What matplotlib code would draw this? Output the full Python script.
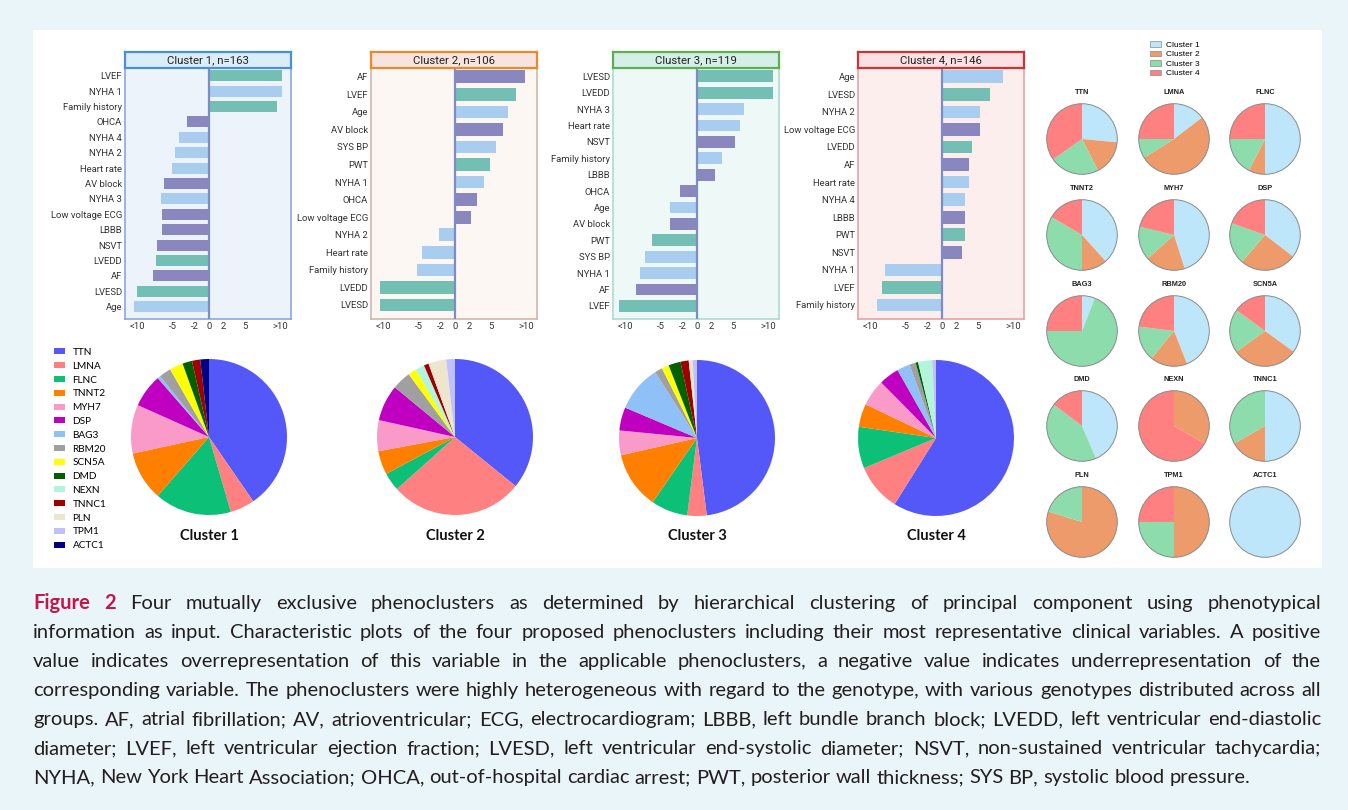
import matplotlib.pyplot as plt
from matplotlib.patches import Patch, Rectangle, Circle

W, H = 1348, 810

# --- clinical variables per phenocluster ---
c1_labels = ['LVEF', 'NYHA 1', 'Family history', 'OHCA', 'NYHA 4', 'NYHA 2',
             'Heart rate', 'AV block', 'NYHA 3', 'Low voltage ECG', 'LBBB',
             'NSVT', 'LVEDD', 'AF', 'LVESD', 'Age']
c1_values = [10.3, 10.3, 9.6, -3.0, -4.2, -4.7, -5.1, -6.2, -6.6, -6.5, -6.5,
             -7.2, -7.3, -7.8, -10.0, -10.5]
c1_groups = ['g', 'b', 'g', 'p', 'b', 'b', 'b', 'p', 'b', 'p', 'p', 'p', 'g', 'p', 'g', 'b']

c2_labels = ['AF', 'LVEF', 'Age', 'AV block', 'SYS BP', 'PWT', 'NYHA 1', 'OHCA',
             'Low voltage ECG', 'NYHA 2', 'Heart rate', 'Family history',
             'LVEDD', 'LVESD']
c2_values = [9.8, 8.6, 7.4, 6.8, 5.7, 5.0, 4.1, 3.1, 2.3, -2.2, -4.6, -5.3, -10.4, -10.4]
c2_groups = ['p', 'g', 'b', 'p', 'b', 'g', 'b', 'p', 'p', 'b', 'b', 'b', 'g', 'g']

c3_labels = ['LVESD', 'LVEDD', 'NYHA 3', 'Heart rate', 'NSVT', 'Family history',
             'LBBB', 'OHCA', 'Age', 'AV block', 'PWT', 'SYS BP', 'NYHA 1', 'AF', 'LVEF']
c3_values = [10.6, 10.6, 6.6, 6.1, 5.4, 3.5, 2.5, -2.4, -3.7, -3.7, -6.2, -7.2,
             -7.9, -8.5, -10.9]
c3_groups = ['g', 'g', 'b', 'b', 'p', 'b', 'p', 'p', 'b', 'p', 'g', 'b', 'b', 'p', 'g']

c4_labels = ['Age', 'LVESD', 'NYHA 2', 'Low voltage ECG', 'LVEDD', 'AF', 'Heart rate',
             'NYHA 4', 'LBBB', 'PWT', 'NSVT', 'NYHA 1', 'LVEF', 'Family history']
c4_values = [8.5, 6.8, 5.3, 5.3, 4.3, 3.8, 3.8, 3.3, 3.3, 3.3, 2.9, -7.9, -8.4, -9.0]
c4_groups = ['b', 'g', 'b', 'p', 'g', 'p', 'b', 'b', 'p', 'g', 'p', 'b', 'g', 'b']

cluster_titles = ['Cluster 1, n=163', 'Cluster 2, n=106', 'Cluster 3, n=119', 'Cluster 4, n=146']
x_ticks = [-10, -5, -2, 0, 2, 5, 10]
x_ticklabels = ['<10', '-5', '-2', '0', '2', '5', '>10']

# --- genotype share (%) within each cluster ---
genes = ['TTN', 'LMNA', 'FLNC', 'TNNT2', 'MYH7', 'DSP', 'BAG3', 'RBM20', 'SCN5A',
         'DMD', 'NEXN', 'TNNC1', 'PLN', 'TPM1', 'ACTC1']
gene_colors = ['#5558f8', '#ff8080', '#0cc078', '#ff8000', '#f99ac8', '#c000c0',
               '#90c0f8', '#a0a0a0', '#ffff00', '#006000', '#b3f5dc', '#a00000',
               '#ede6cc', '#c0c0ff', '#000080']
pie_c1 = [40.4, 5.1, 15.9, 10.2, 10.1, 6.9, 0.6, 2.5, 2.8, 2.0, 0, 1.7, 0, 0, 1.8]
pie_c2 = [35.8, 27.5, 3.8, 4.9, 6.4, 7.5, 0, 3.9, 1.7, 0, 1.9, 1.0, 3.7, 1.8, 0]
pie_c3 = [47.9, 4.0, 7.6, 11.8, 5.1, 4.8, 9.6, 1.6, 1.5, 2.5, 0, 1.7, 0.8, 0.9, 0]
pie_c4 = [58.9, 9.8, 8.6, 4.8, 5.5, 4.2, 2.7, 1.3, 0, 0.5, 2.9, 0, 0, 0.8, 0]

# --- cluster share (%) within each gene: cluster 1..4 ---
cluster_names = ['Cluster 1', 'Cluster 2', 'Cluster 3', 'Cluster 4']
cluster_colors = ['#bde6fb', '#ee9b6c', '#8ddcac', '#ff8080']
gene_shares = [
    [26.5, 16.0, 22.7, 34.8],   # TTN
    [14.6, 51.5, 8.9, 25.0],    # LMNA
    [50.0, 7.5, 17.5, 25.0],    # FLNC
    [38.3, 11.7, 33.5, 16.5],   # TNNT2
    [45.1, 18.3, 15.4, 21.2],   # MYH7
    [35.4, 25.8, 19.1, 19.6],   # DSP
    [6.0, 0, 69.0, 25.0],       # BAG3
    [44.0, 17.0, 16.0, 23.0],   # RBM20
    [35.0, 30.0, 20.0, 15.0],   # SCN5A
    [43.5, 0, 41.8, 14.7],      # DMD
    [0, 33.2, 0, 66.8],         # NEXN
    [50.0, 16.8, 33.2, 0],      # TNNC1
    [0, 79.8, 20.2, 0],         # PLN
    [0, 50.0, 25.0, 25.0],      # TPM1
    [100.0, 0, 0, 0],           # ACTC1
]

caption_lines = [
    "Figure 2 Four mutually exclusive phenoclusters as determined by hierarchical clustering of principal component using phenotypical",
    "information as input. Characteristic plots of the four proposed phenoclusters including their most representative clinical variables. A positive",
    "value indicates overrepresentation of this variable in the applicable phenoclusters, a negative value indicates underrepresentation of the",
    "corresponding variable. The phenoclusters were highly heterogeneous with regard to the genotype, with various genotypes distributed across all",
    "groups. AF, atrial fibrillation; AV, atrioventricular; ECG, electrocardiogram; LBBB, left bundle branch block; LVEDD, left ventricular end-diastolic",
    "diameter; LVEF, left ventricular ejection fraction; LVESD, left ventricular end-systolic diameter; NSVT, non-sustained ventricular tachycardia;",
    "NYHA, New York Heart Association; OHCA, out-of-hospital cardiac arrest; PWT, posterior wall thickness; SYS BP, systolic blood pressure.",
]

bar_colors = {'g': '#74bfb3', 'b': '#a8cdef', 'p': '#8a87bf'}

fig = plt.figure(figsize=(W / 100, H / 100), dpi=100, facecolor='#e9f5f8')


def px_axes(x0, y0, w, h):
    # axes placed by its top-left corner in pixels
    return fig.add_axes([x0 / W, 1 - (y0 + h) / H, w / W, h / H])


# white figure area
fig.add_artist(Rectangle((33 / W, 1 - 568 / H), (1322 - 33) / W, (568 - 30) / H,
                         transform=fig.transFigure, facecolor='white',
                         edgecolor='none', zorder=0))

# --- bar panels ---
panels = [
    (c1_labels, c1_values, c1_groups, 125, '#edf3fb', '#88aadb', '#dcedfa', '#4a90d9'),
    (c2_labels, c2_values, c2_groups, 371, '#fdf7f4', '#cfb8ab', '#f8e4df', '#e8892b'),
    (c3_labels, c3_values, c3_groups, 613, '#eef9f7', '#addcd1', '#d4eee8', '#5cb04e'),
    (c4_labels, c4_values, c4_groups, 858, '#fdeeee', '#e8a2a5', '#fbe1e4', '#cc3333'),
]
for (labels, values, groups, x0, bg, edge, tbg, tedge), title in zip(panels, cluster_titles):
    n = len(values)
    ax = px_axes(x0, 68, 166, 251)
    ax.set_facecolor(bg)
    ax.barh(range(n), values, height=0.72, color=[bar_colors[g] for g in groups], zorder=2)
    ax.axvline(0, color='#7d8cc2', lw=1.6, zorder=3)
    ax.set_xlim(-11.7, 11.5)
    ax.set_ylim(n - 1 + 0.8, -0.5)
    ax.set_yticks(range(n), labels, fontfamily='Roboto', fontsize=6.8, color='#333333')
    ax.set_xticks(x_ticks, x_ticklabels, fontfamily='Roboto', fontsize=6.8, color='#333333')
    ax.tick_params(length=0, pad=2)
    for s in ax.spines.values():
        s.set_color(edge)
        s.set_linewidth(1.2)

    tax = px_axes(x0, 52, 166, 16)
    tax.set_facecolor(tbg)
    tax.set_xticks([])
    tax.set_yticks([])
    for s in tax.spines.values():
        s.set_color(tedge)
        s.set_linewidth(1.6)
    tax.text(0.5, 0.5, title, ha='center', va='center', fontfamily='Roboto',
             fontsize=8.2, color='#222222', transform=tax.transAxes)

# --- genotype pies per cluster ---
big_pies = [(pie_c1, 209, 437, 'Cluster 1'), (pie_c2, 455, 437, 'Cluster 2'),
            (pie_c3, 697, 438, 'Cluster 3'), (pie_c4, 936, 438, 'Cluster 4')]
for shares, cx, cy, name in big_pies:
    r = 78
    ax = px_axes(cx - r, cy - r, 2 * r, 2 * r)
    ax.pie(shares, colors=gene_colors, startangle=90, counterclock=False,
           wedgeprops=dict(linewidth=0))
    ax.set_xlim(-1, 1)
    ax.set_ylim(-1, 1)
    fig.text(cx / W, 1 - 536 / H, name, ha='center', va='center',
             fontfamily='Lato', fontweight='bold', fontsize=10.5, color='#111111')

fig.legend([Patch(facecolor=c) for c in gene_colors], genes, loc='upper left',
           bbox_to_anchor=(54 / W, 1 - 348 / H), frameon=False,
           prop=dict(family='Lato', size=7.2), handlelength=1.05, handleheight=0.55,
           handletextpad=0.8, labelspacing=0.48, borderpad=0, borderaxespad=0)

# --- cluster distribution per gene ---
col_x = [1082, 1174, 1265]
row_y = [139, 235, 331, 426, 522]
for i, (gene, shares) in enumerate(zip(genes, gene_shares)):
    cx, cy = col_x[i % 3], row_y[i // 3]
    r = 36
    ax = px_axes(cx - r, cy - r, 2 * r, 2 * r)
    ax.pie(shares, colors=cluster_colors, startangle=90, counterclock=False,
           wedgeprops=dict(linewidth=0))
    ax.add_patch(Circle((0, 0), 1, fill=False, edgecolor='#8a8a8a', lw=0.7))
    ax.set_xlim(-1.02, 1.02)
    ax.set_ylim(-1.02, 1.02)
    ax.text(0, 1.31, gene, ha='center', va='center', fontfamily='Liberation Sans',
            fontweight='bold', fontsize=5.3, color='#222222', clip_on=False)

fig.legend([Patch(facecolor=c, edgecolor='#8a8a8a', lw=0.5) for c in cluster_colors],
           cluster_names, loc='upper left', bbox_to_anchor=(1150 / W, 1 - 41 / H),
           frameon=False, prop=dict(family='Liberation Sans', size=6),
           handlelength=1.35, handleheight=0.7, handletextpad=0.6,
           labelspacing=0.2, borderpad=0, borderaxespad=0)

# --- caption, justified line by line ---
renderer = fig.canvas.get_renderer()
left_px, right_px = 33, 1321
text_col = '#231f20'
red_col = '#c4164a'


def word_width(word, size, bold=False):
    t = fig.text(0, 0, word, fontfamily='Lato', fontsize=size,
                 fontweight='bold' if bold else 'normal')
    w = t.get_window_extent(renderer).width
    t.remove()
    return w


def line_words(i, line):
    words = line.split(' ')
    return [(w, i == 0 and j < 2) for j, w in enumerate(words)]


base = 13
space0 = word_width('a a', base) - word_width('aa', base)
natural = []
for i, line in enumerate(caption_lines):
    ws = line_words(i, line)
    natural.append(sum(word_width(w, base, b) for w, b in ws) + space0 * (len(ws) - 1))
size = base * min(1277 / natural[-1], (right_px - left_px) * 0.985 / max(natural[:-1]))
space = space0 * size / base

baseline0, step = 609, 29
for i, line in enumerate(caption_lines):
    ws = line_words(i, line)
    widths = [word_width(w, size, b) for w, b in ws]
    last = i == len(caption_lines) - 1
    gap = space if last else (right_px - left_px - sum(widths)) / (len(ws) - 1)
    x = left_px
    y = 1 - (baseline0 + i * step) / H
    for (w, bold), wd in zip(ws, widths):
        fig.text(x / W, y, w, fontfamily='Lato', fontsize=size, va='baseline',
                 fontweight='bold' if bold else 'normal',
                 color=red_col if bold else text_col)
        x += wd + gap

fig.savefig('out.png', dpi=100, facecolor=fig.get_facecolor())
